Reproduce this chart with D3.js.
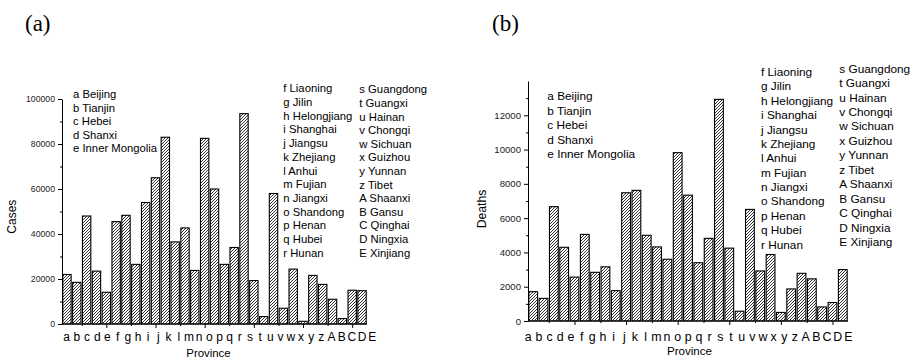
<!DOCTYPE html>
<html>
<head>
<meta charset="utf-8">
<script src="https://cdn.jsdelivr.net/npm/d3@7"></script>
<style>
  body { margin: 0; background: #fff; }
  svg { display: block; font-family: "Liberation Sans", Arial, sans-serif; }
</style>
</head>
<body>
<svg id="chart" width="910" height="358"></svg>
<script>
// province codes (x categories)
const codes = ["a","b","c","d","e","f","g","h","i","j","k","l","m","n","o","p","q","r",
  "s","t","u","v","w","x","y","z","A","B","C","D","E"];

// cumulative cases per province
const cases = [22000, 18500, 48000, 23500, 14100, 45500, 48300, 26500, 54000, 65000, 83000,
  36500, 42700, 23800, 82500, 60000, 26500, 34000, 93500, 19300, 3300, 58000, 7000,
  24400, 1200, 21600, 17600, 11000, 2400, 15000, 14800];

// deaths per province
const deaths = [1710, 1320, 6670, 4300, 2560, 5050, 2840, 3160, 1770, 7480, 7620, 5000,
  4320, 3600, 9820, 7340, 3400, 4820, 12930, 4250, 570, 6510, 2920, 3880, 500, 1870,
  2780, 2460, 820, 1080, 3000];

// legend columns
const legendA = ["a Beijing", "b Tianjin", "c Hebei", "d Shanxi", "e Inner Mongolia"];
const legendB = ["f Liaoning", "g Jilin", "h Helongjiang", "i Shanghai", "j Jiangsu",
  "k Zhejiang", "l Anhui", "m Fujian", "n Jiangxi", "o Shandong", "p Henan", "q Hubei", "r Hunan"];
const legendC = ["s Guangdong", "t Guangxi", "u Hainan", "v Chongqi", "w Sichuan",
  "x Guizhou", "y Yunnan", "z Tibet", "A Shaanxi", "B Gansu", "C Qinghai", "D Ningxia", "E Xinjiang"];

const casesTicks = [0, 20000, 40000, 60000, 80000, 100000];
const deathsTicks = [0, 2000, 4000, 6000, 8000, 10000, 12000];

const svg = d3.select("#chart");
const sans = "'Liberation Sans', Arial, sans-serif";

// hatch fill
const defs = svg.append("defs");
defs.append("pattern")
  .attr("id", "hatch")
  .attr("patternUnits", "userSpaceOnUse")
  .attr("width", 3).attr("height", 3)
  .call(p => {
    p.append("rect").attr("width", 3).attr("height", 3).attr("fill", "#fff");
    p.append("path")
      .attr("d", "M-1,1 l2,-2 M0,3 l3,-3 M2,4 l2,-2")
      .attr("stroke", "#000").attr("stroke-width", 0.8);
  });

function drawPanel(cfg) {
  const g = svg.append("g");

  const x = d3.scaleBand()
    .domain(codes)
    .range([cfg.x0, cfg.x1])
    .paddingInner(0.15)
    .paddingOuter(0.08);

  // numeric position scale (1-based index) for the ticks
  const xPos = d3.scaleLinear()
    .domain([1, codes.length])
    .range([x(codes[0]) + x.bandwidth() / 2, x(codes[codes.length - 1]) + x.bandwidth() / 2]);

  const y = d3.scaleLinear()
    .domain([0, cfg.yMax])
    .range([cfg.y0, cfg.yTop]);

  // bars
  g.append("g").selectAll("rect")
    .data(cfg.values)
    .enter()
    .append("rect")
    .attr("x", (d, i) => x(codes[i]))
    .attr("y", d => y(d))
    .attr("width", x.bandwidth())
    .attr("height", d => y(0) - y(d))
    .attr("fill", "url(#hatch)")
    .attr("stroke", "#000")
    .attr("stroke-width", 1.1);

  // y axis, major + minor
  g.append("g")
    .attr("transform", `translate(${cfg.x0},0)`)
    .call(d3.axisLeft(y).tickValues(cfg.yTicks).tickFormat(d3.format("d"))
      .tickSize(4).tickSizeOuter(0).tickPadding(3))
    .call(a => a.selectAll("text").attr("font-size", cfg.tickFont).attr("font-family", sans).attr("fill", "#222"));
  g.append("g")
    .attr("transform", `translate(${cfg.x0},0)`)
    .call(d3.axisLeft(y).tickValues(cfg.yMinor).tickSize(2).tickFormat(""))
    .call(a => a.select(".domain").remove());

  // x axis
  g.append("g")
    .attr("transform", `translate(0,${cfg.y0})`)
    .call(d3.axisBottom(xPos).tickValues([5, 10, 15, 20, 25, 30]).tickSize(4).tickSizeOuter(0).tickFormat(""))
    .call(a => a.select(".domain").attr("d", `M${cfg.x0},0H${cfg.x1}`));
  g.append("g")
    .attr("transform", `translate(0,${cfg.y0})`)
    .call(d3.axisBottom(xPos).tickValues([2.5, 7.5, 12.5, 17.5, 22.5, 27.5]).tickSize(2).tickFormat(""))
    .call(a => a.select(".domain").remove());

  g.selectAll(".tick line, .domain").attr("stroke", "#000").attr("stroke-width", 1);

  // province letters
  const lx = d3.scalePoint().domain(codes).range(cfg.labelRange);
  g.append("g").selectAll("text")
    .data(codes)
    .enter()
    .append("text")
    .attr("x", d => lx(d))
    .attr("y", cfg.labelY)
    .attr("text-anchor", "middle")
    .attr("font-size", cfg.labelFont)
    .text(d => d);

  g.append("text")
    .attr("x", cfg.xTitle[0]).attr("y", cfg.xTitle[1])
    .attr("text-anchor", "middle")
    .attr("font-size", cfg.titleFont)
    .text("Province");

  g.append("text")
    .attr("transform", `translate(${cfg.yTitle[0]},${cfg.yTitle[1]}) rotate(-90)`)
    .attr("text-anchor", "middle")
    .attr("dy", "0.35em")
    .attr("font-size", cfg.titleFont + 0.6)
    .text(cfg.yLabel);

  // legend columns
  [legendA, legendB, legendC].forEach((col, ci) => {
    const c = cfg.legend[ci];
    g.append("g").selectAll("text")
      .data(col)
      .enter()
      .append("text")
      .attr("x", c.x)
      .attr("y", (d, i) => c.y + i * c.dy)
      .attr("font-size", cfg.legendFont)
      .text(d => d);
  });

  g.append("text")
    .attr("x", cfg.panelPos[0]).attr("y", cfg.panelPos[1])
    .attr("font-family", "'Liberation Serif', 'Times New Roman', serif")
    .attr("font-size", 23)
    .text(cfg.panel);
}

drawPanel({
  panel: "(a)", panelPos: [25, 31],
  values: cases, yMax: 100000, yTicks: casesTicks,
  yMinor: d3.range(10000, 100000, 20000),
  x0: 62, x1: 367, y0: 324, yTop: 99,
  tickFont: 8.7, labelFont: 12, titleFont: 11.4, legendFont: 11.3,
  labelRange: [66.7, 372.3], labelY: 341,
  xTitle: [208.5, 356.5], yTitle: [12, 216.7], yLabel: "Cases",
  legend: [{x: 73, y: 98, dy: 13.6}, {x: 283.3, y: 92.3, dy: 13.7}, {x: 359.3, y: 93.3, dy: 13.6}]
});

drawPanel({
  panel: "(b)", panelPos: [492, 31],
  values: deaths, yMax: 14000, yTicks: deathsTicks,
  yMinor: d3.range(1000, 14000, 2000),
  x0: 528, x1: 848, y0: 321, yTop: 81,
  tickFont: 9.6, labelFont: 12.4, titleFont: 11.6, legendFont: 11.8,
  labelRange: [528.3, 848.3], labelY: 340.5,
  xTitle: [689.5, 355], yTitle: [481.5, 209], yLabel: "Deaths",
  legend: [{x: 547.3, y: 100.3, dy: 14.5}, {x: 761, y: 76, dy: 14.38}, {x: 839.3, y: 72.6, dy: 14.45}]
});
</script>
</body>
</html>
